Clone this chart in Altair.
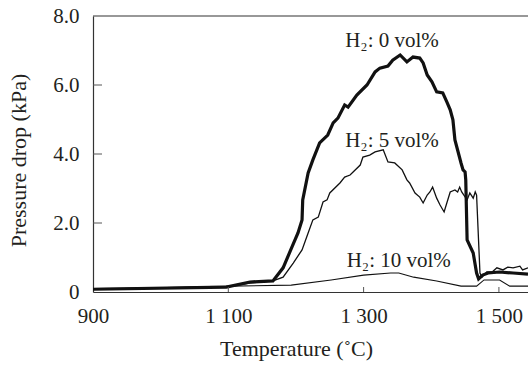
import altair as alt
import pandas as pd

# ---- data ----
t0 = [900, 1097, 1132, 1166, 1181, 1194, 1203, 1209, 1210, 1218, 1225, 1235, 1247, 1255, 1262,
      1272, 1277, 1290, 1305, 1317, 1324, 1336, 1343, 1354, 1364, 1373, 1383, 1388, 1394, 1401,
      1408, 1417, 1423, 1428, 1432, 1435, 1444, 1447, 1450, 1451, 1453, 1462, 1467, 1470, 1476,
      1484, 1501, 1521, 1543]
p0 = [0.08, 0.14, 0.29, 0.32, 0.70, 1.30, 1.71, 2.09, 2.67, 3.45, 3.83, 4.32, 4.55, 4.90, 5.04,
      5.42, 5.36, 5.71, 6.00, 6.38, 6.49, 6.55, 6.72, 6.87, 6.67, 6.81, 6.78, 6.64, 6.29, 6.09,
      5.80, 5.77, 5.51, 5.28, 4.99, 4.41, 3.74, 3.54, 3.48, 3.25, 1.51, 1.13, 0.55, 0.38, 0.49,
      0.55, 0.58, 0.55, 0.52]

t5 = [900, 1097, 1132, 1166, 1181, 1196, 1209, 1218, 1225, 1233, 1240, 1246, 1250, 1265, 1272,
      1280, 1295, 1299, 1309, 1317, 1329, 1336, 1346, 1357, 1364, 1368, 1376, 1383, 1388, 1394,
      1398, 1402, 1408, 1413, 1419, 1423, 1428, 1435, 1439, 1442, 1445, 1453, 1457, 1462, 1465,
      1467, 1472, 1475, 1482, 1490, 1497, 1506, 1513, 1521, 1531, 1535, 1543]
p5 = [0.10, 0.14, 0.26, 0.32, 0.43, 0.84, 1.22, 1.71, 2.09, 2.17, 2.61, 2.67, 2.87, 3.16, 3.33,
      3.39, 3.68, 3.91, 3.97, 4.06, 4.12, 3.77, 3.74, 3.54, 3.25, 3.16, 2.87, 2.75, 2.58, 2.81,
      2.90, 3.04, 2.72, 2.52, 2.32, 2.58, 2.90, 2.96, 2.90, 3.04, 2.90, 2.67, 2.87, 2.72, 2.90,
      2.81, 0.55, 0.43, 0.58, 0.58, 0.70, 0.64, 0.72, 0.70, 0.75, 0.64, 0.70]

t10 = [900, 1102, 1193, 1252, 1300, 1340, 1352, 1374, 1408, 1444, 1467, 1478, 1501, 1516, 1543]
p10 = [0.08, 0.17, 0.20, 0.35, 0.49, 0.55, 0.55, 0.43, 0.32, 0.17, 0.17, 0.35, 0.35, 0.17, 0.17]

label_text = ["H\u2082: 0 vol%", "H\u2082: 5 vol%", "H\u2082: 10 vol%"]
label_t = [1342, 1342, 1352]
label_p = [7.1, 4.2, 0.72]

x_ticks = [900, 1100, 1300, 1500]
y_ticks = [0, 2, 4, 6, 8]
inner_x_ticks = [1100, 1300, 1500]
inner_y_ticks = [2, 4, 6]

FONT = "Liberation Serif"
INK = "#231f20"
W, H = 435, 276

xs = alt.Scale(domain=[900, 1543], nice=False, zero=False)
ys = alt.Scale(domain=[0, 8], nice=False, zero=False)

df0 = pd.DataFrame({"T": t0, "P": p0})
df5 = pd.DataFrame({"T": t5, "P": p5})
df10 = pd.DataFrame({"T": t10, "P": p10})
dfl = pd.DataFrame({"label": label_text, "T": label_t, "P": label_p})

x_axis = alt.Axis(
    values=x_ticks, ticks=False, tickSize=0, grid=False, labelFlush=False,
    labelExpr="replace(format(datum.value, ','), ',', ' ')",
    labelFont=FONT, labelFontSize=21, labelColor=INK, labelPadding=13,
    domainColor="#333333", domainWidth=1.2,
    title="Temperature (\u02daC)", titleFont=FONT, titleFontSize=22, titleFontWeight="normal",
    titleColor=INK, titleX=203, titleY=63, titleAlign="center", titleBaseline="alphabetic",
)
y_axis = alt.Axis(
    values=y_ticks, ticks=False, tickSize=0, grid=False, labelFlush=False,
    labelExpr="datum.value == 0 ? '0' : format(datum.value, '.1f')",
    labelFont=FONT, labelFontSize=21, labelColor=INK, labelPadding=14,
    domainColor="#333333", domainWidth=1.2,
    title="Pressure drop (kPa)", titleFont=FONT, titleFontSize=22, titleFontWeight="normal",
    titleColor=INK, titleX=-68, titleY=144, titleAngle=270, titleAlign="center",
    titleBaseline="alphabetic",
)

base0 = alt.Chart(df0).mark_line(color="#111111", strokeWidth=3.2, clip=True).encode(
    x=alt.X("T:Q", scale=xs, axis=x_axis),
    y=alt.Y("P:Q", scale=ys, axis=y_axis),
)
line5 = alt.Chart(df5).mark_line(color="#111111", strokeWidth=1.3, clip=True).encode(
    x=alt.X("T:Q", scale=xs), y=alt.Y("P:Q", scale=ys)
)
line10 = alt.Chart(df10).mark_line(color="#111111", strokeWidth=1.1, clip=True).encode(
    x=alt.X("T:Q", scale=xs), y=alt.Y("P:Q", scale=ys)
)

top_rule = alt.Chart(pd.DataFrame({"v": [8]})).mark_rule(color="#333333", strokeWidth=1.2).encode(
    y=alt.Y("v:Q", scale=ys)
)
ytick = alt.Chart(pd.DataFrame({"v": inner_y_ticks})).mark_rule(color="#555555", strokeWidth=1).encode(
    y=alt.Y("v:Q", scale=ys), x=alt.value(0), x2=alt.value(9)
)
xtick = alt.Chart(pd.DataFrame({"v": inner_x_ticks})).mark_rule(color="#555555", strokeWidth=1).encode(
    x=alt.X("v:Q", scale=xs), y=alt.value(H), y2=alt.value(H - 5)
)
labels = alt.Chart(dfl).mark_text(
    font=FONT, fontSize=21, color=INK, align="center", baseline="alphabetic"
).encode(
    x=alt.X("T:Q", scale=xs), y=alt.Y("P:Q", scale=ys), text="label:N"
)

chart = alt.layer(base0, line5, line10, top_rule, ytick, xtick, labels).properties(
    width=W, height=H,
    autosize=alt.AutoSizeParams(type="none"),
    padding={"left": 93, "top": 16, "right": 0, "bottom": 73},
    background="white",
).configure_view(stroke=None)

chart.save("out.html", embed_options={"renderer": "svg", "actions": False})
